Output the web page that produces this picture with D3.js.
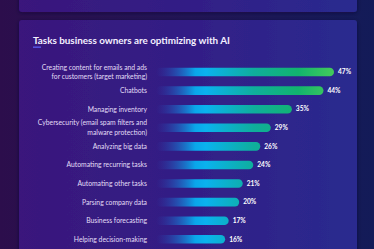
<!DOCTYPE html>
<html>
<head>
<meta charset="utf-8">
<script src="https://cdn.jsdelivr.net/npm/d3@7"></script>
<style>
  html, body { margin: 0; padding: 0; background: #1e1450; }
  svg { display: block; }
</style>
</head>
<body>
<svg id="chart" width="374" height="249"></svg>
<script>
// data
var titleText = 'Tasks business owners are optimizing with AI';
var categories = [
  'Creating content for emails and ads|for customers (target marketing)',
  'Chatbots',
  'Managing inventory',
  'Cybersecurity (email spam filters and|malware protection)',
  'Analyzing big data',
  'Automating recurring tasks',
  'Automating other tasks',
  'Parsing company data',
  'Business forecasting',
  'Helping decision-making'
];
var values = [47, 44, 35, 29, 26, 24, 21, 20, 17, 16];

var W = 374, H = 249;
var svg = d3.select('#chart');
var defs = svg.append('defs');

function hGrad(id, stops, x1, x2) {
  var g = defs.append('linearGradient').attr('id', id);
  if (x1 != null) {
    g.attr('gradientUnits', 'userSpaceOnUse').attr('x1', x1).attr('x2', x2).attr('y1', 0).attr('y2', 0);
  }
  stops.forEach(function (s) {
    g.append('stop').attr('offset', s[0]).attr('stop-color', s[1]).attr('stop-opacity', s[2] == null ? 1 : s[2]);
  });
}

hGrad('pageBg', [[0, '#2c0e4c'], [0.5, '#221556'], [1, '#131b58']]);
hGrad('cardBg', [[0, '#3a177c'], [0.5, '#321e86'], [1, '#2a2b8f']]);
hGrad('barGrad', [[0, '#2a48b8', 0], [0.22, '#0aa6ea'], [0.28, '#0ab2ee'], [0.55, '#0fae9c'], [0.8, '#12b46e'], [1, '#44ca5a']], 156, 334);

var shadow = defs.append('filter').attr('id', 'shadow').attr('x', -0.1).attr('y', -0.1).attr('width', 1.2).attr('height', 1.2);
shadow.append('feDropShadow').attr('dx', 0).attr('dy', 1).attr('stdDeviation', 2).attr('flood-color', '#0c0630').attr('flood-opacity', 0.6);

svg.append('rect').attr('width', W).attr('height', H).attr('fill', 'url(#pageBg)');

// cards
svg.append('rect').attr('x', 19).attr('y', -20).attr('width', 338).attr('height', 32)
  .attr('rx', 3).attr('fill', 'url(#cardBg)').attr('filter', 'url(#shadow)');
svg.append('rect').attr('x', 19).attr('y', 20).attr('width', 338).attr('height', 260)
  .attr('rx', 3).attr('fill', 'url(#cardBg)').attr('filter', 'url(#shadow)');

// title
svg.append('text')
  .attr('x', 33).attr('y', 44)
  .attr('font-family', 'Lato, sans-serif')
  .attr('font-weight', 700)
  .attr('font-size', 9.9)
  .attr('fill', '#f4f0ff')
  .text(titleText);
svg.append('rect').attr('x', 33).attr('y', 46.5).attr('width', 8).attr('height', 1.3).attr('fill', '#5b5cf2');

// scales
var x = d3.scaleLinear().domain([0, 47]).range([169, 334]);
var y = d3.scalePoint().domain(categories).range([72, 239.3]);
var barH = 8.6, barStart = 156;

var rows = svg.append('g').attr('class', 'rows')
  .selectAll('g')
  .data(categories)
  .enter().append('g')
  .attr('transform', function (d) { return 'translate(0,' + y(d) + ')'; });

rows.append('rect')
  .attr('x', barStart)
  .attr('y', -barH / 2)
  .attr('height', barH)
  .attr('width', function (d, i) { return x(values[i]) - barStart; })
  .attr('rx', barH / 2)
  .attr('fill', 'url(#barGrad)');

rows.append('text')
  .attr('x', function (d, i) { return x(values[i]) + 4; })
  .attr('dy', '0.35em')
  .attr('font-family', 'Lato, sans-serif')
  .attr('font-weight', 700)
  .attr('font-size', 6.6)
  .attr('fill', '#ffffff')
  .text(function (d, i) { return values[i] + '%'; });

var lbl = rows.append('text')
  .attr('text-anchor', 'end')
  .attr('font-family', 'Lato, sans-serif')
  .attr('font-size', 6.8)
  .attr('fill', '#e2dcf6');

lbl.each(function (d) {
  var lines = d.split('|');
  var t = d3.select(this);
  lines.forEach(function (l, k) {
    t.append('tspan')
      .attr('x', 147)
      .attr('y', (k - (lines.length - 1) / 2) * 9.4)
      .attr('dy', '0.35em')
      .text(l);
  });
});
</script>
</body>
</html>
